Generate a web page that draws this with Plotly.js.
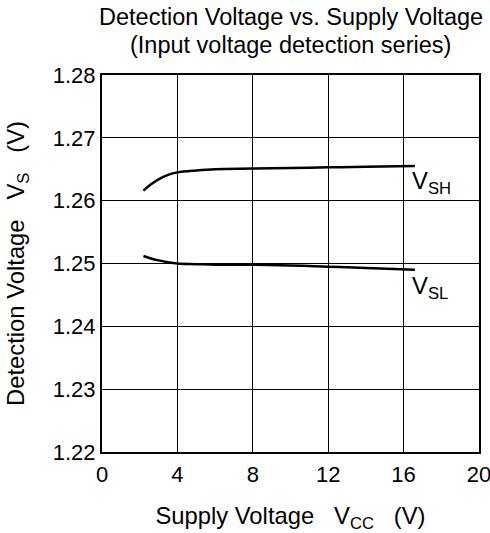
<!DOCTYPE html>
<html>
<head>
<meta charset="utf-8">
<script src="https://cdn.plot.ly/plotly-3.0.1.min.js"></script>
<style>html,body{margin:0;padding:0;background:#fff;}#chart{width:490px;height:533px;}</style>
</head>
<body>
<div id="chart"></div>
<script>
const vcc = [2.2, 2.6, 3.0, 3.5, 4.0, 5, 6, 8, 10, 12, 14, 16.6];
const vsh = [1.2616, 1.2626, 1.2634, 1.2641, 1.2645, 1.2648, 1.2650, 1.2651, 1.2652, 1.2653, 1.2654, 1.2655];
const vsl = [1.2512, 1.2508, 1.2505, 1.2502, 1.2500, 1.2499, 1.2498, 1.2498, 1.2497, 1.2495, 1.2493, 1.2490];
const xTicks = [0, 4, 8, 12, 16, 20];
const yTicks = [1.22, 1.23, 1.24, 1.25, 1.26, 1.27, 1.28];
const titleLines = ['Detection Voltage vs. Supply Voltage', '(Input voltage detection series)'];
const labels = [
  {text: 'V<sub>SH</sub>', x: 16.35, y: 1.2629},
  {text: 'V<sub>SL</sub>', x: 16.35, y: 1.2462}
];

const fam = 'Liberation Sans, Arial, sans-serif';
const font = {family: fam, size: 22, color: '#000'};
const bigFont = {family: fam, size: 23.8, color: '#000'};
const traces = [
  {x: vcc, y: vsh, mode: 'lines', line: {color: '#000', width: 2.5, shape: 'spline'}, hoverinfo: 'skip'},
  {x: vcc, y: vsl, mode: 'lines', line: {color: '#000', width: 2.5, shape: 'spline'}, hoverinfo: 'skip'}
];
const titleY = [1.1538, 1.0796];
const layout = {
  width: 490, height: 533,
  margin: {l: 102, r: 11, t: 75, b: 81},
  paper_bgcolor: '#fff', plot_bgcolor: '#fff',
  showlegend: false,
  font: font,
  xaxis: {
    range: [0, 20], tickvals: xTicks, ticktext: xTicks.map(String),
    showgrid: true, gridcolor: '#000', gridwidth: 1,
    showline: true, linecolor: '#000', linewidth: 2, mirror: true,
    ticks: '', zeroline: false, tickfont: font, ticklabeloverflow: 'allow',
    ticklabelstandoff: 2,
    title: {text: 'Supply Voltage   V<sub>CC</sub>   (V)', font: bigFont, standoff: 21}
  },
  yaxis: {
    range: [1.22, 1.28], tickvals: yTicks, ticktext: yTicks.map(v => v.toFixed(2)),
    showgrid: true, gridcolor: '#000', gridwidth: 1,
    showline: true, linecolor: '#000', linewidth: 2, mirror: true,
    ticks: '', zeroline: false, tickfont: font, ticklabeloverflow: 'allow',
    title: {text: 'Detection Voltage   V<sub>S</sub>   (V)', font: bigFont, standoff: 21}
  },
  annotations: labels.map(l => ({
    text: l.text, x: l.x, y: l.y, xref: 'x', yref: 'y',
    xanchor: 'left', yanchor: 'middle', showarrow: false, font: bigFont
  })).concat(titleLines.map((t, i) => ({
    text: t, x: 0.5, y: titleY[i], xref: 'paper', yref: 'paper',
    xanchor: 'center', yanchor: 'middle', showarrow: false, borderpad: 0,
    font: {family: fam, size: 23.5, color: '#000'}
  })))
};
Plotly.newPlot('chart', traces, layout, {staticPlot: true, displayModeBar: false});
</script>
</body>
</html>
